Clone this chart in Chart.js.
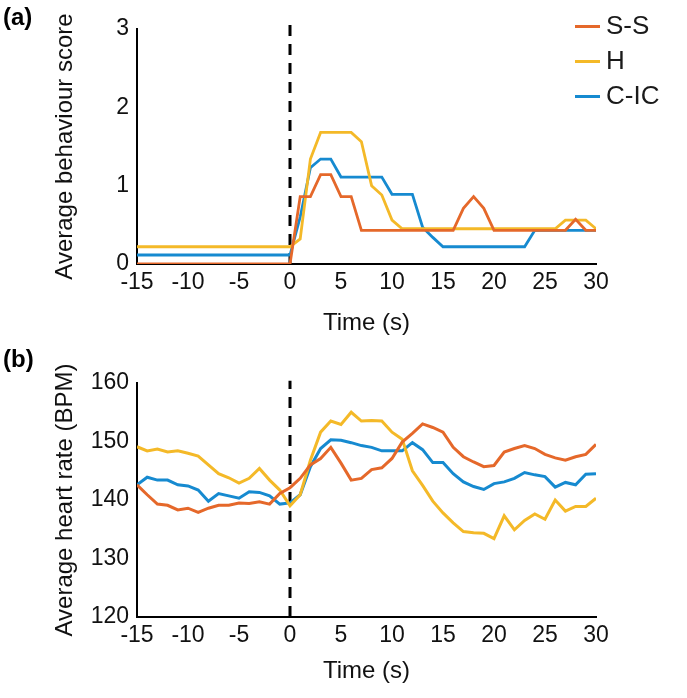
<!DOCTYPE html>
<html>
<head>
<meta charset="utf-8">
<script src="https://cdn.jsdelivr.net/npm/chart.js@4"></script>
<style>
  body { margin: 0; background: #fff; font-family: "Liberation Sans", Arial, sans-serif; }
  #wrap { position: relative; width: 687px; height: 698px; }
  canvas { position: absolute; left: 0; }
  .panel-label { position: absolute; left: 3px; font-weight: bold; font-size: 24px; color: #000; }
  .legend { position: absolute; left: 575px; top: 8px; }
  .legend-row { position: relative; height: 35px; width: 110px; }
  .legend-row span.swatch { position: absolute; left: 0; top: 17px; width: 25px; height: 3px; }
  .legend-row span.txt { position: absolute; left: 31px; top: 1px; font-size: 26px; line-height: 32px; color: #1a1a1a; }
</style>
</head>
<body>
<div id="wrap">
  <canvas id="chart-a" width="687" height="345" style="top:0"></canvas>
  <canvas id="chart-b" width="687" height="353" style="top:345px"></canvas>
  <div class="panel-label" style="top:3px">(a)</div>
  <div class="panel-label" style="top:345px">(b)</div>
  <div class="legend" id="legend"></div>
</div>
<script>
// time axis (s)
const timeSec = [-15, -14, -13, -12, -11, -10, -9, -8, -7, -6, -5, -4, -3, -2, -1, 0,
  1, 2, 3, 4, 5, 6, 7, 8, 9, 10, 11, 12, 13, 14, 15, 16, 17, 18, 19, 20,
  21, 22, 23, 24, 25, 26, 27, 28, 29, 30];

const seriesNames = ['S-S', 'H', 'C-IC'];
const seriesColors = ['#E5682A', '#F4B928', '#168AD0'];

// (a) average behaviour score
const ssScore = [0, 0, 0, 0, 0, 0, 0, 0, 0, 0, 0, 0, 0, 0, 0, 0,
  0.86, 0.86, 1.14, 1.14, 0.86, 0.86, 0.43, 0.43, 0.43, 0.43, 0.43, 0.43, 0.43, 0.43, 0.43,
  0.43, 0.71, 0.86, 0.71, 0.43, 0.43, 0.43, 0.43, 0.43, 0.43, 0.43, 0.43, 0.57, 0.43, 0.43];
const hScore = [0.22, 0.22, 0.22, 0.22, 0.22, 0.22, 0.22, 0.22, 0.22, 0.22, 0.22, 0.22, 0.22, 0.22, 0.22, 0.22,
  0.32, 1.34, 1.68, 1.68, 1.68, 1.68, 1.56, 1.0, 0.88, 0.56, 0.45, 0.45, 0.45, 0.45, 0.45,
  0.45, 0.45, 0.45, 0.45, 0.45, 0.45, 0.45, 0.45, 0.45, 0.45, 0.45, 0.56, 0.56, 0.56, 0.45];
const cicScore = [0.115, 0.115, 0.115, 0.115, 0.115, 0.115, 0.115, 0.115, 0.115, 0.115, 0.115, 0.115, 0.115, 0.115, 0.115, 0.115,
  0.6, 1.23, 1.34, 1.34, 1.11, 1.11, 1.11, 1.11, 1.11, 0.89, 0.89, 0.89, 0.47, 0.34, 0.22,
  0.22, 0.22, 0.22, 0.22, 0.22, 0.22, 0.22, 0.22, 0.43, 0.43, 0.43, 0.43, 0.43, 0.43, 0.43];

// (b) average heart rate (BPM)
const ssHR = [142.6, 140.9, 139.3, 139.1, 138.3, 138.6, 137.9, 138.6, 139.1, 139.1, 139.5, 139.4, 139.7, 139.3, 141.1, 142.1,
  143.7, 146.0, 147.1, 149.0, 146.3, 143.4, 143.7, 145.2, 145.5, 147.1, 149.9, 151.4, 153.0, 152.4, 151.6,
  149.0, 147.4, 146.5, 145.7, 145.9, 148.2, 148.8, 149.3, 148.8, 147.8, 147.2, 146.8, 147.4, 147.8, 149.5];
const hHR = [149.1, 148.4, 148.7, 148.2, 148.4, 148.0, 147.5, 146.0, 144.5, 143.8, 142.9, 143.7, 145.4, 143.4, 141.7, 139.0,
  140.9, 146.8, 151.6, 153.5, 152.9, 155.0, 153.5, 153.6, 153.5, 151.6, 150.4, 145.0, 142.5, 139.8, 137.8,
  136.1, 134.6, 134.4, 134.3, 133.4, 137.3, 134.9, 136.5, 137.6, 136.7, 140.0, 138.1, 138.9, 138.9, 140.3];
const cicHR = [142.6, 143.9, 143.4, 143.4, 142.6, 142.4, 141.7, 139.8, 141.1, 140.7, 140.3, 141.4, 141.3, 140.7, 139.3, 139.5,
  140.9, 145.7, 148.8, 150.3, 150.2, 149.8, 149.3, 149.0, 148.4, 148.4, 148.4, 149.8, 148.6, 146.4, 146.4,
  144.5, 143.1, 142.3, 141.8, 142.8, 143.1, 143.7, 144.7, 144.3, 144.0, 142.2, 143.0, 142.6, 144.4, 144.5];

const xTicks = [-15, -10, -5, 0, 5, 10, 15, 20, 25, 30];
const scoreTicks = [0, 1, 2, 3];
const hrTicks = [120, 130, 140, 150, 160];

const FONT = '"Liberation Sans", Arial, sans-serif';

function pairs(ys) {
  return ys.map((y, i) => ({ x: timeSec[i], y }));
}

function buildChart(canvasId, seriesList, yTicks, yTitle, onsetTop, lineW, pad, xTitlePad) {
  const datasets = seriesList.map((ys, i) => ({
    label: seriesNames[i],
    data: pairs(ys),
    borderColor: seriesColors[i],
    borderWidth: lineW,
    pointRadius: 0,
    tension: 0,
    order: i
  }));
  // stimulus onset marker at t = 0
  datasets.push({
    label: 'onset',
    data: [{ x: 0, y: yTicks[0] }, { x: 0, y: onsetTop }],
    borderColor: '#000',
    borderWidth: 3,
    borderDash: [11, 8],
    pointRadius: 0,
    clip: false,
    order: 10
  });

  return new Chart(document.getElementById(canvasId), {
    type: 'line',
    data: { datasets },
    options: {
      responsive: false,
      animation: false,
      layout: { padding: pad },
      plugins: { legend: { display: false }, tooltip: { enabled: false } },
      scales: {
        x: {
          type: 'linear',
          min: xTicks[0],
          max: xTicks[xTicks.length - 1],
          grid: { display: false, drawTicks: false },
          border: { display: true, color: '#000', width: 2 },
          afterBuildTicks: s => { s.ticks = xTicks.map(v => ({ value: v })); },
          ticks: { color: '#111', font: { family: FONT, size: 23 }, padding: 5, autoSkip: false, maxRotation: 0 },
          title: { display: true, text: 'Time (s)', color: '#111', font: { family: FONT, size: 24 }, padding: { top: 0, bottom: xTitlePad } },
          afterFit: s => { s.height = pad.xHeight; }
        },
        y: {
          min: yTicks[0],
          max: yTicks[yTicks.length - 1],
          grid: { display: false, drawTicks: false },
          border: { display: true, color: '#000', width: 2 },
          afterBuildTicks: s => { s.ticks = yTicks.map(v => ({ value: v })); },
          ticks: { color: '#111', font: { family: FONT, size: 23 }, padding: 8 },
          title: { display: true, text: yTitle, color: '#111', font: { family: FONT, size: 24 }, padding: { top: 51, bottom: 0 } },
          afterFit: s => { s.width = 137; }
        }
      }
    }
  });
}

buildChart('chart-a', [ssScore, hScore, cicScore], scoreTicks, 'Average behaviour score', 3.09, 2.8,
  { top: 29, right: 91, left: 0, bottom: 0, xHeight: 81 }, 7);
buildChart('chart-b', [ssHR, hHR, cicHR], hrTicks, 'Average heart rate (BPM)', 160.4, 3,
  { top: 38, right: 91, left: 0, bottom: 0, xHeight: 81 }, 12);

// legend
const legend = document.getElementById('legend');
seriesNames.forEach((name, i) => {
  const row = document.createElement('div');
  row.className = 'legend-row';
  row.innerHTML = `<span class="swatch" style="background:${seriesColors[i]}"></span><span class="txt">${name}</span>`;
  legend.appendChild(row);
});
</script>
</body>
</html>
